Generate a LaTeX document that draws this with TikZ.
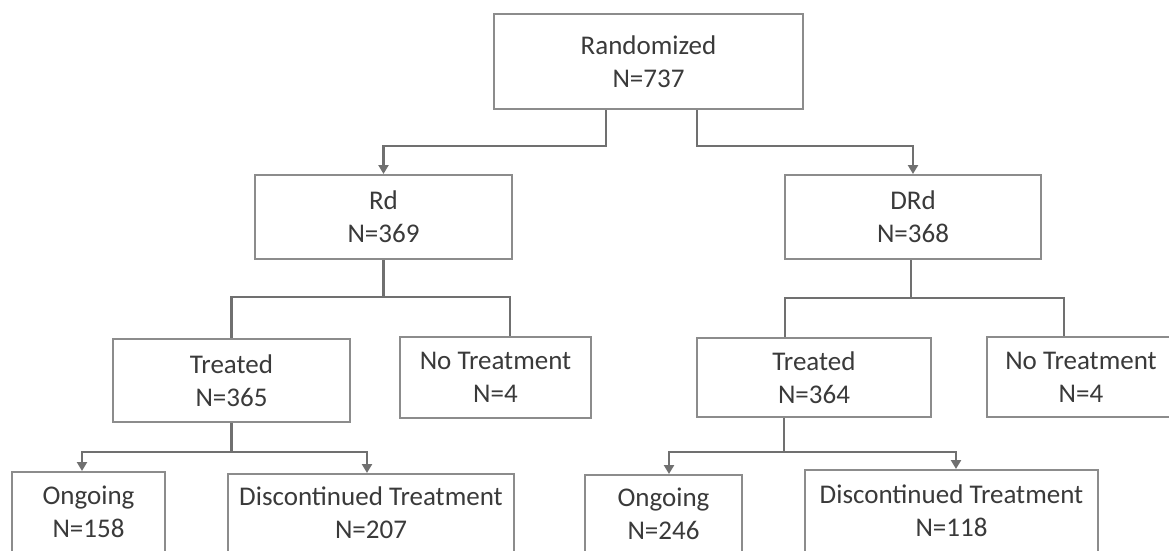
\documentclass[tikz,border=0pt]{standalone}
\usepackage{fontspec}
\setmainfont{Carlito}
\usetikzlibrary{arrows.meta}
\definecolor{boxline}{HTML}{8C8C8C}
\definecolor{connline}{HTML}{707070}
\definecolor{txt}{HTML}{3A3A3A}
\begin{document}
\begin{tikzpicture}[x=1pt,y=1pt,
  box/.style={draw=boxline, line width=2pt, fill=white, inner sep=0pt, align=center, text=txt, font=\fontsize{27}{33}\selectfont},
  conn/.style={draw=connline, line width=2.6pt},
  arr/.style={conn, -{Triangle[length=9pt,width=10pt]}}]
\useasboundingbox (0,0) rectangle (1169,-551);
\clip (0,0) rectangle (1169,-551);
\fill[white] (0,0) rectangle (1169,-551);
% nodes
\node[box, minimum width=309pt, minimum height=95pt] (rand) at (648.5,-61.5) {Randomized\\N=737};
\node[box, minimum width=257pt, minimum height=84pt] (rd) at (383.5,-217) {Rd\\N=369};
\node[box, minimum width=256pt, minimum height=84pt] (drd) at (913,-217) {DRd\\N=368};
\node[box, minimum width=237pt, minimum height=83pt] (trL) at (231.5,-380.5) {Treated\\N=365};
\node[box, minimum width=191pt, minimum height=81pt] (ntL) at (495.5,-377.5) {No Treatment\\N=4};
\node[box, minimum width=234pt, minimum height=79pt] (trR) at (814,-377.5) {Treated\\N=364};
\node[box, minimum width=188pt, minimum height=80pt] (ntR) at (1081,-377) {No Treatment\\N=4};
\node[box, minimum width=153pt, minimum height=80pt] (ogL) at (88.5,-512) {Ongoing\\N=158};
\node[box, minimum width=286pt, minimum height=78pt] (dcL) at (371,-513) {Discontinued Treatment\\N=207};
\node[box, minimum width=157pt, minimum height=78pt] (ogR) at (663.5,-514) {Ongoing\\N=246};
\node[box, minimum width=293pt, minimum height=82pt] (dcR) at (951.5,-511) {Discontinued Treatment\\N=118};
% connectors
\draw[arr] ([xshift=-42.5pt]rand.south) -- ++(0,-36) -| (rd.north);
\draw[arr] ([xshift=48.5pt]rand.south) -- ++(0,-36) -| (drd.north);
\draw[conn] (rd.south) -- ++(0,-37) -| (trL.north);
\draw[conn] (rd.south) -- ++(0,-37) -| ([xshift=14.5pt]ntL.north);
\draw[conn] ([xshift=-2pt]drd.south) -- ++(0,-38) -| ([xshift=-29pt]trR.north);
\draw[conn] ([xshift=-2pt]drd.south) -- ++(0,-38) -| ([xshift=-17pt]ntR.north);
\draw[arr] (trL.south) -- ++(0,-29) -| ([xshift=-6.5pt]ogL.north);
\draw[arr] (trL.south) -- ++(0,-29) -| ([xshift=-4pt]dcL.north);
\draw[arr] ([xshift=-30pt]trR.south) -- ++(0,-34) -| ([xshift=5.5pt]ogR.north);
\draw[arr] ([xshift=-30pt]trR.south) -- ++(0,-34) -| ([xshift=4.5pt]dcR.north);
\end{tikzpicture}
\end{document}
